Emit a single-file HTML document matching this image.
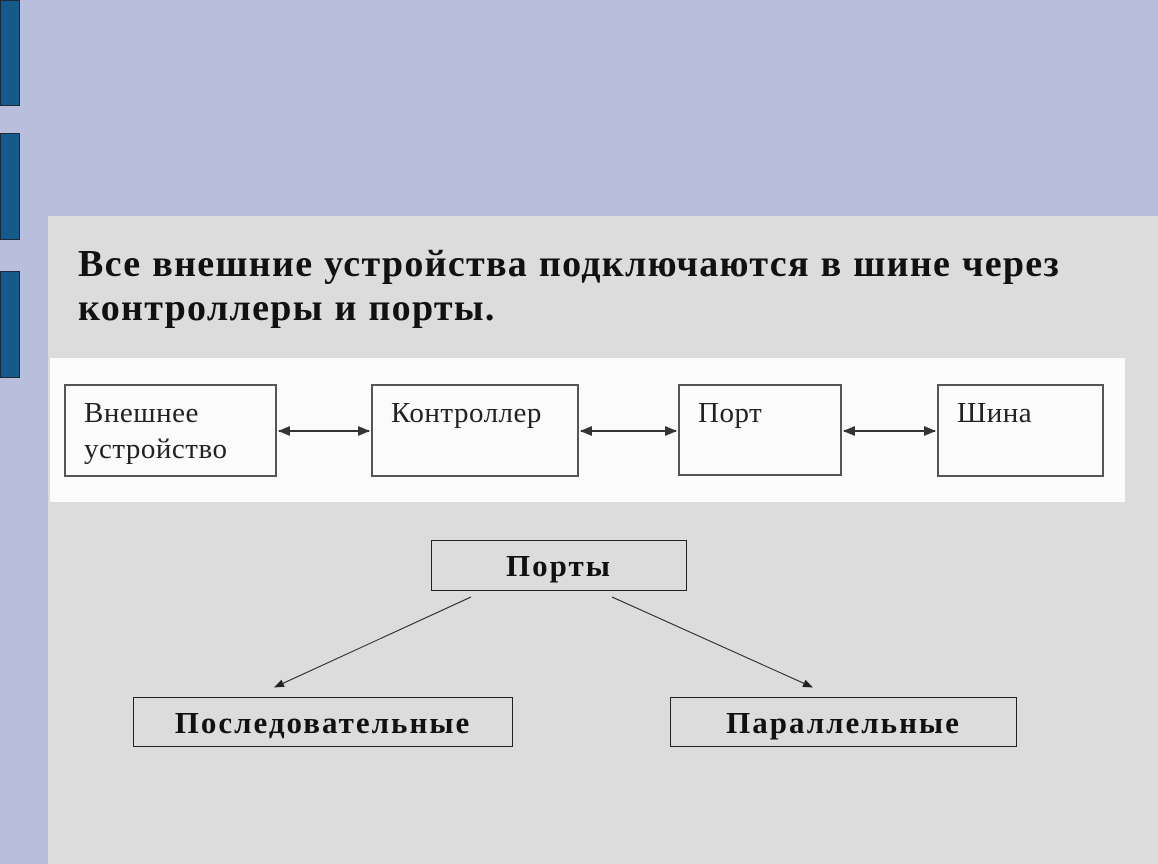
<!DOCTYPE html>
<html><head><meta charset="utf-8"><style>
body{margin:0;width:1158px;height:864px;background:#b9bedc;position:relative;overflow:hidden;font-family:"Liberation Serif",serif}
.bar{position:absolute;left:0;width:20px;background:#165a8c;border:1px solid #1a2a3a;box-sizing:border-box}
.panel{position:absolute;left:48px;top:216px;width:1110px;height:648px;background:#dcdcdc}
.t{position:absolute;left:78px;top:242px;font-size:38px;letter-spacing:1.3px;font-weight:bold;line-height:44px;color:#111;white-space:nowrap}
.strip{position:absolute;left:50px;top:358px;width:1075px;height:144px;background:#fbfbfb}
.b{position:absolute;border:2px solid #555;box-sizing:border-box;font-size:29px;letter-spacing:0.5px;color:#222;padding:9px 0 0 18px;line-height:36px;white-space:nowrap}
.p{position:absolute;border:1.5px solid #222;box-sizing:border-box;font-size:31px;letter-spacing:2px;font-weight:bold;text-align:center;color:#111;white-space:nowrap}
</style></head><body>
<div class="bar" style="top:0;height:106px"></div>
<div class="bar" style="top:133px;height:107px"></div>
<div class="bar" style="top:271px;height:107px"></div>
<div class="panel"></div>
<div class="t">Все внешние устройства подключаются в шине через<br>контроллеры и порты.</div>
<div class="strip"></div>
<div class="b" style="left:64px;top:384px;width:213px;height:93px">Внешнее<br>устройство</div>
<div class="b" style="left:371px;top:384px;width:208px;height:93px">Контроллер</div>
<div class="b" style="left:678px;top:384px;width:164px;height:92px">Порт</div>
<div class="b" style="left:937px;top:384px;width:167px;height:93px">Шина</div>
<div class="p" style="left:431px;top:540px;width:256px;height:51px;line-height:50px">Порты</div>
<div class="p" style="left:133px;top:697px;width:380px;height:50px;line-height:50px">Последовательные</div>
<div class="p" style="left:670px;top:697px;width:347px;height:50px;line-height:50px">Параллельные</div>
<svg width="1158" height="864" style="position:absolute;left:0;top:0">
<defs><marker id="a" markerWidth="12" markerHeight="10" refX="11" refY="5" orient="auto-start-reverse" markerUnits="userSpaceOnUse"><path d="M0,0L12,5L0,10z" fill="#333"/></marker>
<marker id="s" markerWidth="10" markerHeight="8" refX="9" refY="4" orient="auto" markerUnits="userSpaceOnUse"><path d="M0,0L10,4L0,8z" fill="#222"/></marker></defs>
<g stroke="#333" stroke-width="2">
<line x1="279" y1="431" x2="369" y2="431" marker-start="url(#a)" marker-end="url(#a)"/>
<line x1="581" y1="431" x2="676" y2="431" marker-start="url(#a)" marker-end="url(#a)"/>
<line x1="844" y1="431" x2="935" y2="431" marker-start="url(#a)" marker-end="url(#a)"/>
</g>
<g stroke="#222" stroke-width="1">
<line x1="471" y1="597" x2="275" y2="687" marker-end="url(#s)"/>
<line x1="612" y1="597" x2="812" y2="687" marker-end="url(#s)"/>
</g>
</svg>
</body></html>
